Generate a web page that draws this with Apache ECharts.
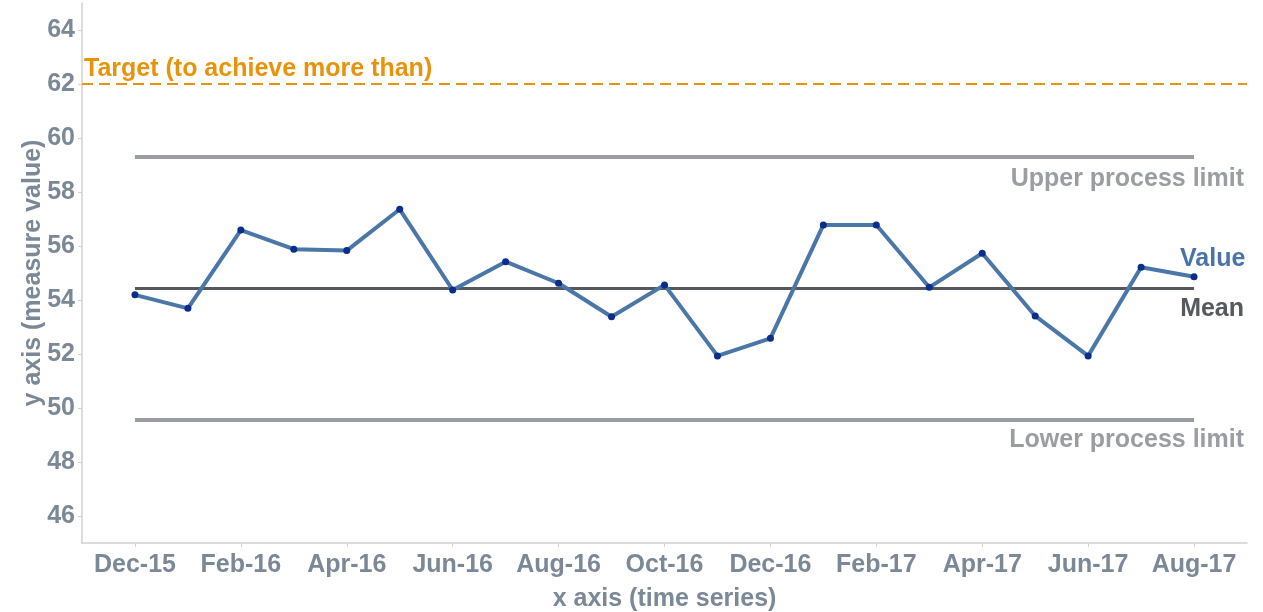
<!DOCTYPE html>
<html>
<head>
<meta charset="utf-8">
<script src="https://cdn.jsdelivr.net/npm/echarts@6/dist/echarts.min.js"></script>
<style>
html,body{margin:0;padding:0;background:#fff;}
#chart{width:1263px;height:612px;}
</style>
</head>
<body>
<div id="chart"></div>
<script>
// ---- data ----
var months = ['Dec-15','Jan-16','Feb-16','Mar-16','Apr-16','May-16','Jun-16','Jul-16','Aug-16','Sep-16','Oct-16','Nov-16','Dec-16','Jan-17','Feb-17','Mar-17','Apr-17','May-17','Jun-17','Jul-17','Aug-17'];
var values = [54.19,53.69,56.59,55.88,55.83,57.36,54.37,55.42,54.62,53.38,54.56,51.93,52.58,56.78,56.78,54.47,55.73,53.41,51.93,55.21,54.86];
var meanValue = 54.45;
var upperLimit = 59.3;
var lowerLimit = 49.58;
var targetValue = 62;
var yTicks = [46,48,50,52,54,56,58,60,62,64];

// padded category list (empty slots give the margin at both ends)
var cats = [''].concat(months).concat(['']);
var seriesData = [null].concat(values).concat([null]);
var first = months[0], last = months[months.length - 1];

var FONT = 'Liberation Sans, Arial, sans-serif';
var AXIS_TXT = '#7b8897';

var chart = echarts.init(document.getElementById('chart'), null, {renderer:'canvas'});
chart.setOption({
  animation:false,
  backgroundColor:'#ffffff',
  grid:{left:82,right:16,top:3,bottom:69,containLabel:false,outerBoundsMode:'none'},
  xAxis:{
    type:'category',
    data:cats,
    boundaryGap:false,
    name:'x axis (time series)',
    nameLocation:'middle',
    nameGap:44,
    nameMoveOverlap:false,
    nameTextStyle:{color:AXIS_TXT,fontSize:25,fontWeight:'bold',fontFamily:FONT},
    axisLine:{lineStyle:{color:'#cfd2d6',width:1.5}},
    axisTick:{show:true,length:4,lineStyle:{color:'#cfd2d6'},interval:function(i){return i%2===1;}},
    axisLabel:{color:AXIS_TXT,fontSize:25,fontWeight:'bold',fontFamily:FONT,margin:10,
      interval:function(i){return i%2===1;}},
    splitLine:{show:false}
  },
  yAxis:{
    type:'value',
    min:45,max:65,
    name:'y axis (measure value)',
    nameLocation:'middle',
    nameGap:36,
    nameMoveOverlap:false,
    nameTextStyle:{color:AXIS_TXT,fontSize:25,fontWeight:'bold',fontFamily:FONT},
    axisLine:{show:true,lineStyle:{color:'#cfd2d6',width:1.5}},
    axisTick:{show:true,length:4,lineStyle:{color:'#cfd2d6'},customValues:yTicks},
    axisLabel:{color:AXIS_TXT,fontSize:25,fontWeight:'bold',fontFamily:FONT,margin:7,customValues:yTicks},
    splitLine:{show:false}
  },
  series:[
    {
      type:'line',
      name:'Value',
      data:seriesData,
      z:5,
      symbol:'circle',
      symbolSize:7,
      itemStyle:{color:'#0b2d8c'},
      lineStyle:{color:'#4a76a8',width:4},
      endLabel:{show:true,formatter:'Value',color:'#4a74a8',fontSize:25,fontWeight:'bold',fontFamily:FONT,
        distance:0,offset:[-14,-18]},
      markLine:{
        silent:true,
        symbol:['none','none'],
        data:[
          [{coord:[first,upperLimit],lineStyle:{color:'#999da3',width:4,type:'solid'},
            label:{show:true,formatter:'Upper process limit',position:'insideEndBottom',color:'#9a9da2',
              fontSize:25,fontWeight:'bold',fontFamily:FONT,offset:[55,5]}},
           {coord:[last,upperLimit]}],
          [{coord:[first,meanValue],lineStyle:{color:'#55595d',width:3,type:'solid'},
            label:{show:true,formatter:'Mean',position:'insideEndBottom',color:'#555a5e',
              fontSize:25,fontWeight:'bold',fontFamily:FONT,offset:[55,4]}},
           {coord:[last,meanValue]}],
          [{coord:[first,lowerLimit],lineStyle:{color:'#999da3',width:4,type:'solid'},
            label:{show:true,formatter:'Lower process limit',position:'insideEndBottom',color:'#9a9da2',
              fontSize:25,fontWeight:'bold',fontFamily:FONT,offset:[55,3]}},
           {coord:[last,lowerLimit]}],
          {yAxis:targetValue,lineStyle:{color:'#e8930c',width:2,type:[11,6]},
            label:{show:true,formatter:'Target (to achieve more than)',position:'insideStartTop',color:'#e8930c',
              fontSize:25,fontWeight:'bold',fontFamily:FONT,distance:2}}
        ]
      }
    }
  ]
});
</script>
</body>
</html>
